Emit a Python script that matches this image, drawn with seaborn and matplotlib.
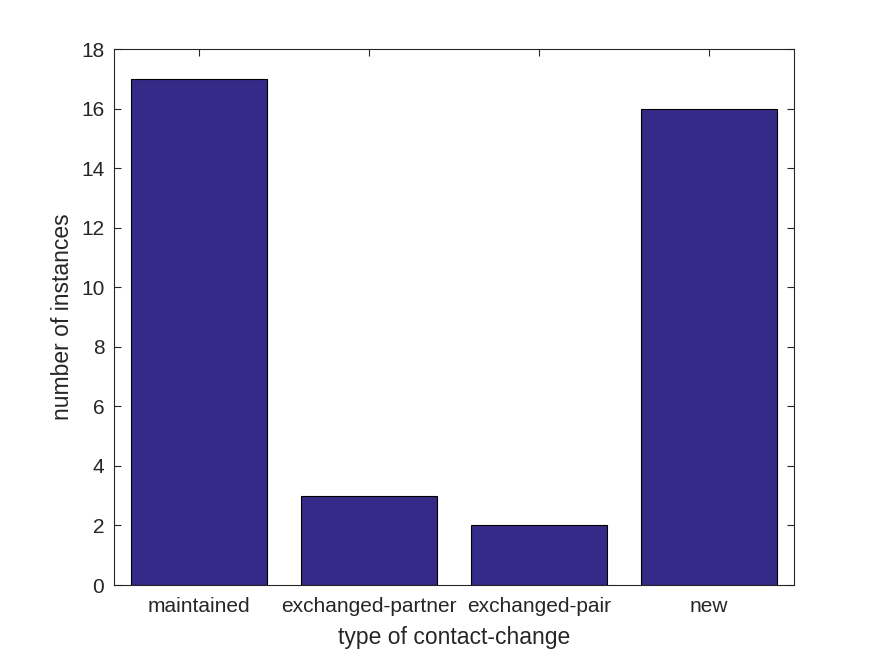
import matplotlib
matplotlib.use("Agg")
import matplotlib.pyplot as plt
import seaborn as sns
import pandas as pd

categories = ["maintained", "exchanged-partner", "exchanged-pair", "new"]
counts = [17, 3, 2, 16]

df = pd.DataFrame({"type": categories, "count": counts})

sns.set_style("white")
plt.rcParams['font.family'] = ['Liberation Sans', 'DejaVu Sans']

fig = plt.figure(figsize=(8.75, 6.56), dpi=100)
ax = fig.add_axes([0.1303, 0.1082, 0.7771, 0.8171])

sns.barplot(data=df, x="type", y="count", color="#352a87", saturation=1,
            width=0.8, edgecolor="black", linewidth=0.8, ax=ax)

ax.set_xlim(-0.5, 3.5)
ax.set_ylim(0, 18)
ax.set_yticks(range(0, 19, 2))
ax.set_xlabel("type of contact-change", fontsize=16.5, color="#262626", labelpad=7)
ax.set_ylabel("number of instances", fontsize=16.5, color="#262626", labelpad=5)
ax.tick_params(direction="in", length=5, width=0.8, colors="#262626",
               labelsize=15, top=True, right=True, bottom=True, left=True)
ax.tick_params(axis="x", pad=8.5)
ax.tick_params(axis="y", pad=7)
for s in ax.spines.values():
    s.set_visible(True)
    s.set_color("#262626")
    s.set_linewidth(0.8)

fig.savefig("out.png", dpi=100)
